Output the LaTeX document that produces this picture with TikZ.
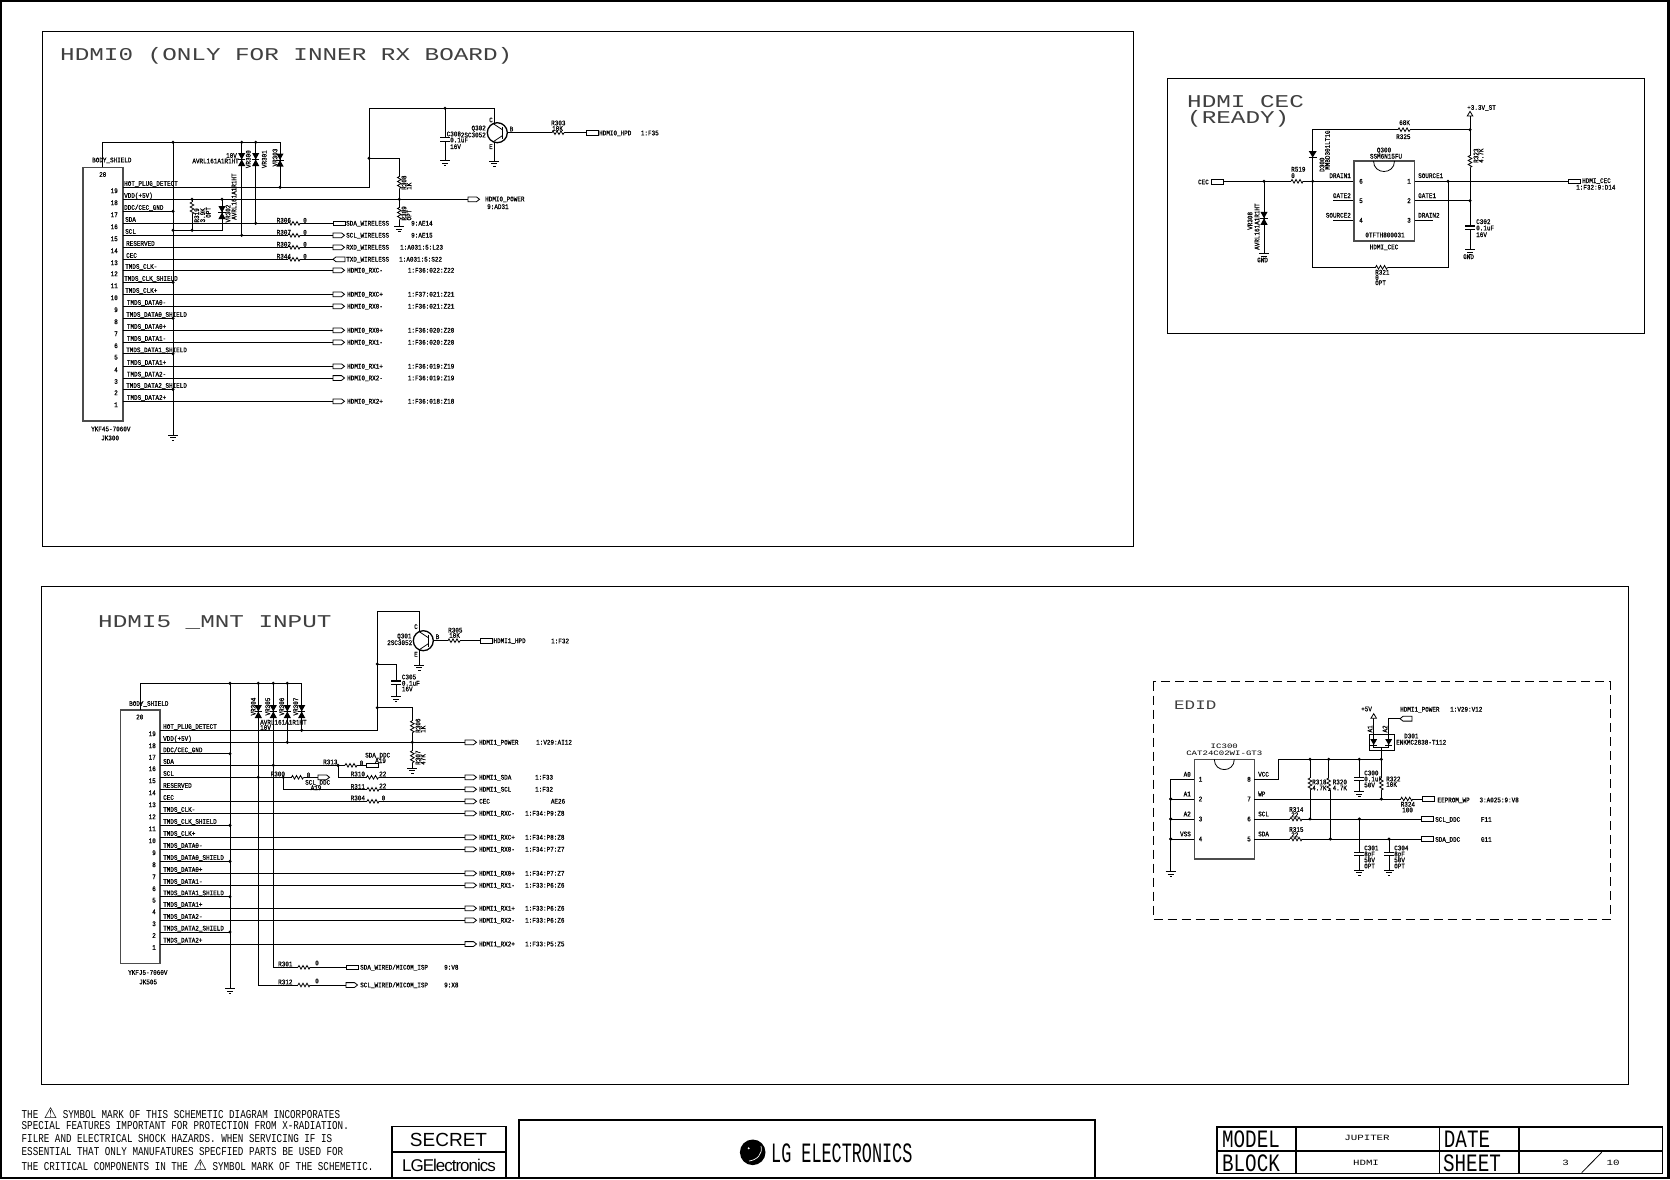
\documentclass[tikz,border=0pt]{standalone}
\usepackage{fontspec}
\newfontfamily\schfont[FakeStretch=0.85,FakeBold=0.7]{Liberation Mono}
\newfontfamily\titlefont[FakeStretch=1.35]{Liberation Mono}
\newfontfamily\strokefont[FakeStretch=0.77]{Liberation Mono}
\newfontfamily\logofont[FakeStretch=0.6]{Liberation Mono}
\newfontfamily\signfont[LetterSpace=-6]{Liberation Sans}
\newfontfamily\symfont{DejaVu Sans}
\tikzset{
    wire/.style={line width=0.8pt},
    lab/.style={anchor=west, inner sep=0pt, text height=4.6pt, text depth=0pt, font=\schfont\fontsize{7}{8}\selectfont},
    titlelab/.style={anchor=west, inner sep=0pt, text=black!75, text height=11pt, text depth=0pt, font=\titlefont\fontsize{18}{20}\selectfont},
    notelab/.style={anchor=west, inner sep=0pt, font=\strokefont\fontsize{12}{13}\selectfont},
    blocklab/.style={anchor=center, inner sep=0pt, font=\strokefont\fontsize{25}{27}\selectfont},
    blockval/.style={anchor=center, inner sep=0pt, font=\titlefont\fontsize{8}{10}\selectfont},
    chipbox/.style={draw=black!70, line width=1.6pt, fill=white, inner sep=0pt},
    resH/.pic={\fill[white] (-6,-2.6) rectangle (6,2.6);
        \draw[wire] (-6,0) -- (-5,-1.8) -- (-3,1.8) -- (-1,-1.8) -- (1,1.8) -- (3,-1.8) -- (5,1.8) -- (6,0);},
    resV/.pic={\fill[white] (-2.6,-6) rectangle (2.6,6);
        \draw[wire] (0,-6) -- (-1.8,-5) -- (1.8,-3) -- (-1.8,-1) -- (1.8,1) -- (-1.8,3) -- (1.8,5) -- (0,6);},
    tvsdiode/.pic={\fill (-3.6,-6.5) -- (3.6,-6.5) -- (0,0) -- cycle;
        \fill (-3.6,6.5) -- (3.6,6.5) -- (0,0) -- cycle;
        \draw[wire] (-3.6,0) -- (3.6,0);},
    capV/.pic={\fill[white] (-5,-1.7) rectangle (5,1.7);
        \draw[line width=1.1pt] (-5,-1.7) -- (5,-1.7) (-5,1.7) -- (5,1.7);},
    gndsym/.pic={\draw[wire] (-5,0) -- (5,0) (-3,2.6) -- (3,2.6) (-1.2,5) -- (1.2,5);},
    railtip/.pic={\draw[wire, fill=white] (-2.8,0) -- (2.8,0) -- (0,-4.6) -- cycle;},
    portA/.pic={\draw[wire, fill=white] (0,-2.4) -- (8.5,-2.4) -- (11.5,0) -- (8.5,2.4) -- (0,2.4) -- cycle;},
    portR/.pic={\draw[wire, fill=white] (0,-2.4) rectangle (12,2.4);},
    portL/.pic={\draw[wire, fill=white] (3,-2.4) -- (12,-2.4) -- (12,2.4) -- (3,2.4) -- (0,0) -- cycle;},
    npnQ/.pic={\draw[line width=1.3pt, fill=white] (0,0) circle (10);
        \draw[line width=1.3pt] (5,-6) -- (5,6);
        \draw[wire] (5,-3) -- (-4,-9) (5,3) -- (-4,9);},
}
\begin{document}
\begin{tikzpicture}[x=1pt, y=-1pt]
\useasboundingbox (0,0) rectangle (1670,1180);
\draw[line width=2.4pt] (1.2,0.8) rectangle (1668.3,1178);
\draw[wire] (42.5,31) rectangle (1133,546);
\draw[wire] (1167,78) rectangle (1644,333);
\draw[wire] (41.5,586) rectangle (1628,1084);
\draw[wire, dash pattern=on 9pt off 5pt] (1153,681.5) rectangle (1610,919);
\node[titlelab] (titleA) at (60,55) {HDMI0 (ONLY FOR INNER RX BOARD)};
\node[titlelab] (titleB) at (1187,102) {HDMI CEC};
\node[titlelab] (titleBb) at (1187,118.5) {(READY)};
\node[titlelab] (titleC) at (98,622) {HDMI5 \_MNT INPUT};
\node[titlelab, text height=9pt, font=\titlefont\fontsize{13}{15}\selectfont] (titleD) at (1174,704.5) {EDID};

\node[chipbox, minimum width=40pt, minimum height=253.7pt] (jkA) at (102.7,294.2) {};
\node[lab] (jkAnum) at (99,174.5) {20};
\node[lab] (jkAbody) at (92,160) {BODY\_SHIELD};
\node[lab] (jkAtype) at (91,429) {YKF45-7060V};
\node[lab] (jkAname) at (101,438) {JK300};
\foreach \n/\yy/\lx/\txt in {19/187.3/124/HOT\_PLUG\_DETECT, 18/199.3/124/VDD(+5V), 17/211.3/124/{DDC/CEC\_GND}, 16/223.3/125/SDA, 15/235.3/125/SCL, 14/247.3/126/RESERVED, 13/259.3/126/CEC, 12/270.3/125/TMDS\_CLK-, 11/282.3/124/TMDS\_CLK\_SHIELD, 10/294.3/125/TMDS\_CLK+, 9/306.3/126.7/TMDS\_DATA0-, 8/318.3/126/TMDS\_DATA0\_SHIELD, 7/330.3/126.7/TMDS\_DATA0+, 6/342.3/126.7/TMDS\_DATA1-, 5/353.7/126/TMDS\_DATA1\_SHIELD, 4/366.3/126.7/TMDS\_DATA1+, 3/378/126.7/TMDS\_DATA2-, 2/389.3/126/TMDS\_DATA2\_SHIELD, 1/401.3/126.7/TMDS\_DATA2+}{
    \coordinate (a\n) at (122.7,\yy);
    \node[lab, anchor=east] (anum\n) at (118,\yy+3.5) {\n};
    \node[lab] (alab\n) at (\lx,\yy-3.8) {\txt};
}
\coordinate (abody) at (102.3,167.3);
\coordinate (aend) at (280,142.3);
\coordinate (agnd) at (173,435);
\coordinate (avr0) at (241.7,142.3);
\coordinate (avr1) at (255.7,142.3);
\coordinate (avdd) at (222,199.3);
\coordinate (ar19) at (192,199.3);
\coordinate (alow) at (222,230.3);
\coordinate (apx) at (333,90);
\coordinate (akink) at (369,158.3);
\coordinate (atop) at (369,108.3);
\coordinate (acol) at (494.3,108.3);
\coordinate (acap) at (445,108.3);
\coordinate (acapg) at (445,160.7);
\coordinate (aemit) at (494.3,161);
\coordinate (apow) at (399.3,199.3);
\coordinate (apowg) at (399.3,226.7);
\coordinate (apowp) at (468,199.3);
\coordinate (abase) at (502.3,132.7);
\coordinate (ahpd) at (586,132.7);
\draw[wire] (abody) |- (aend) -- (aend |- a19);
\draw[wire] (agnd |- aend) -- (agnd);
\pic at (agnd) {gndsym};
\foreach \n in {17,11,8,5,2}{
    \draw[wire] (a\n) -- (a\n -| agnd);
    \fill (a\n -| agnd) circle (1.7);
}
\draw[wire] (a19) -| (atop) -- (acol) -- (aemit);
\draw[wire] (a18) -- (apowp);
\draw[wire] (akink) -| (apow) -- (apowg);
\draw[wire] (avr0) -- (avr0 |- a15);
\draw[wire] (avr1) -- (avr1 |- a16);
\draw[wire] (avdd) -- (alow) -- (alow -| agnd);
\draw[wire] (ar19) -- (ar19 |- alow);
\draw[wire] (acap) -- (acapg);
\draw[wire] (abase) -- (ahpd);
\foreach \n/\rn in {16/R306, 15/R307, 14/R302, 13/R344}{
    \draw[wire] (a\n) -- (a\n -| apx);
    \pic at ([xshift=294pt]a\n -| 0,0) {resH};
    \node[lab] (ar\n) at ([xshift=276.5pt,yshift=3pt]a\n -| 0,0) {\rn};
    \node[lab] (az\n) at ([xshift=303pt,yshift=3pt]a\n -| 0,0) {0};
}
\pic at (a16 -| apx) {portR};
\pic at (a15 -| apx) {portA};
\pic at (a14 -| apx) {portA};
\pic at (a13 -| apx) {portL};
\foreach \n/\sig/\rx/\ref in {16/SDA\_WIRELESS/411/9:AE14, 15/SCL\_WIRELESS/411/9:AE15, 14/RXD\_WIRELESS/400/1:A031:5:L23, 13/TXD\_WIRELESS/399/1:A031:5:S22}{
    \node[lab] (asig\n) at ([xshift=13pt]a\n -| apx) {\sig};
    \node[lab] (aref\n) at ([xshift=\rx pt]a\n -| 0,0) {\ref};
}
\foreach \n/\sig/\ref in {12/HDMI0\_RXC-/1:F36:022:Z22, 10/HDMI0\_RXC+/1:F37:021:Z21, 9/HDMI0\_RX0-/1:F36:021:Z21, 7/HDMI0\_RX0+/1:F36:020:Z20, 6/HDMI0\_RX1-/1:F36:020:Z20, 4/HDMI0\_RX1+/1:F36:019:Z19, 3/HDMI0\_RX2-/1:F36:019:Z19, 1/HDMI0\_RX2+/1:F36:018:Z18}{
    \draw[wire] (a\n) -- (a\n -| apx);
    \pic at (a\n -| apx) {portA};
    \node[lab] (asig\n) at ([xshift=14pt]a\n -| apx) {\sig};
    \node[lab] (aref\n) at ([xshift=407.7pt]a\n -| 0,0) {\ref};
}
\pic at (ar19 |- 0,208) {resV};
\pic at (avdd |- 0,212.5) {tvsdiode};
\pic at (avr0 |- 0,159.5) {tvsdiode};
\pic at (avr1 |- 0,159.5) {tvsdiode};
\pic at (aend |- 0,160) {tvsdiode};
\pic at (apow |- 0,182.5) {resV};
\pic at (apow |- 0,213.5) {resV};
\pic at (apowg) {gndsym};
\pic at (acap |- 0,139.4) {capV};
\pic at (acapg) {gndsym};
\pic at (aemit) {gndsym};
\pic at (497.3,132.7) {npnQ};
\pic at (558,132.7) {resH};
\pic at (ahpd) {portR};
\pic at (apowp) {portA};
\foreach \jx/\jy in {173/142.3, 241.7/142.3, 255.7/142.3, 280/187.3, 241.7/235.3, 255.7/223.3, 222/199.3, 192/199.3, 192/230.3, 173/230.3, 369/158.3, 399.3/199.3, 445/108.3}{
    \fill (\jx,\jy) circle (1.7);
}
\node[lab, anchor=east] (avr10v) at (237,155.5) {10V};
\node[lab, anchor=east] (avrtype) at (239,161) {AVRL161A1R1HT};
\node[lab, rotate=90] (avr300) at (248.3,168.3) {VR300};
\node[lab, rotate=90] (avr301) at (264.3,168.3) {VR301};
\node[lab, rotate=90] (avr303) at (275,166.7) {VR303};
\node[lab, rotate=90] (avr302) at (228,222.7) {VR302};
\node[lab, rotate=90] (avrtypeb) at (234,220) {AVRL161A1R1HT};
\node[lab, rotate=90] (ar319) at (196.7,222.7) {R319};
\node[lab, rotate=90] (ar319v) at (202.7,222.7) {3.9K};
\node[lab, rotate=90] (ar319o) at (208.3,218) {OPT};
\node[lab, rotate=90] (ar308) at (404,190) {R308};
\node[lab, rotate=90] (ar308v) at (409,190) {1K};
\node[lab, rotate=90] (ar309) at (404,220.7) {R309};
\node[lab, rotate=90] (ar309v) at (409,220.7) {OPT};
\node[lab] (ac300) at (446.5,134) {C308};
\node[lab] (ac300v) at (450,140) {0.1uF};
\node[lab] (ac300w) at (450,146.7) {16V};
\node[lab] (aqc) at (489,120) {C};
\node[lab] (aqe) at (489,146.7) {E};
\node[lab] (aqb) at (509.5,129) {B};
\node[lab, anchor=east] (aqname) at (486,128) {Q302};
\node[lab, anchor=east] (aqtype) at (486,135) {2SC3052};
\node[lab] (ar303) at (551,123) {R303};
\node[lab] (ar303v) at (552,128.5) {10K};
\node[lab] (ahpdsig) at (599,133) {HDMI0\_HPD};
\node[lab] (ahpdref) at (640.7,133) {1:F35};
\node[lab] (apowsig) at (485,199) {HDMI0\_POWER};
\node[lab] (apowref) at (487,206.7) {9:AD31};

\node[chipbox, minimum width=60.3pt, minimum height=80pt] (qA) at (1384.2,201) {};
\draw[wire] (1373.5,161) .. controls (1373.5,175) and (1394.5,175) .. (1394.5,161);
\coordinate (bplus) at (1470,116);
\coordinate (bgnd) at (1470,249.3);
\coordinate (bgate) at (1470,200.7);
\coordinate (btop) at (1470,129.7);
\coordinate (bdio) at (1312.7,181.3);
\coordinate (bjump) at (1448,181.3);
\coordinate (bcec) at (1223,181.3);
\coordinate (bvr) at (1264,181.3);
\coordinate (bvrg) at (1264,253.3);
\coordinate (bport) at (1568,181.3);
\coordinate (bbot) at (1312.7,267.3);
\coordinate (bpin5) at (1333,200.7);
\coordinate (bpin4) at (1333,220.3);
\coordinate (bpin3) at (1433,220.3);
\draw[wire] (bplus) -- (bgnd);
\draw[wire] (btop) -| (bbot) -| (bjump);
\draw[wire] (bcec) -- (qA.west |- bcec);
\draw[wire] (qA.east |- bport) -- (bport);
\draw[wire] (qA.east |- bgate) -- (bgate);
\draw[wire] (bpin5) -- (qA.west |- bpin5);
\draw[wire] (bpin4) -- (qA.west |- bpin4);
\draw[wire] (qA.east |- bpin3) -- (bpin3);
\draw[wire] (bvr) -- (bvrg);
\draw[wire] (bcec) -- +(-1.5,0) -- +(-1.5,1);
\pic at (bplus) {railtip};
\fill (1308.7,151) -- (1316.7,151) -- (1312.7,157.5) -- cycle;
\draw[wire] (1308.7,157.5) -- (1316.7,157.5);
\pic at (1404,129.7) {resH};
\pic at (1297,181.3) {resH};
\pic at (1381.5,267.3) {resH};
\pic at (1470,161.5) {resV};
\pic at (bvr |- 0,218.3) {tvsdiode};
\pic at (1470,227.7) {capV};
\pic at (bgnd) {gndsym};
\pic at (bvrg) {gndsym};
\pic at (1211,182) {portR};
\pic at (bport) {portR};
\foreach \jx/\jy in {1470/129.7, 1470/200.7, 1312.7/181.3, 1264/181.3, 1448/181.3}{
    \fill (\jx,\jy) circle (1.7);
}
\node[lab, anchor=east] (bcecsig) at (1209,182) {CEC};
\node[lab] (b33v) at (1467,107.5) {+3.3V\_ST};
\node[lab] (b68k) at (1399,122.7) {68K};
\node[lab] (br325) at (1396,136.7) {R325};
\node[lab, rotate=90] (br323) at (1476,163) {R323};
\node[lab, rotate=90] (br323v) at (1481,163) {4.7K};
\node[lab, rotate=90] (bd300) at (1322,172) {D300};
\node[lab, rotate=90] (bd300t) at (1327.5,170) {MMBD301LT1G};
\node[lab] (br519) at (1291,169.3) {R519};
\node[lab] (br519v) at (1291,175.7) {0};
\node[lab, rotate=90] (bvr308) at (1250,230) {VR308};
\node[lab, rotate=90] (bvrt) at (1257,250) {AVRL161A1R1HT};
\node[lab] (bgnd1) at (1257,260) {GND};
\node[lab] (bgnd2) at (1463,256.7) {GND};
\node[lab, anchor=center] (bqname) at (1384,150) {Q300};
\node[lab, anchor=center] (bqtype) at (1386,156.3) {SSM6N15FU};
\node[lab, anchor=center] (bqcode) at (1385,235) {0TFTH800031};
\node[lab, anchor=center] (bqdes) at (1384,247) {HDMI\_CEC};
\node[lab, anchor=east] (bdr1) at (1351,175.7) {DRAIN1};
\node[lab, anchor=east] (bgt2) at (1351,195.7) {GATE2};
\node[lab, anchor=east] (bsr2) at (1351,215.3) {SOURCE2};
\node[lab] (bsr1) at (1418,175.7) {SOURCE1};
\node[lab] (bgt1) at (1418,195.7) {GATE1};
\node[lab] (bdr2) at (1418,215.3) {DRAIN2};
\foreach \pn/\px/\yy in {6/1359/181.3, 5/1359/200.7, 4/1359/220.3, 1/1407/181.3, 2/1407/200.7, 3/1407/220.3}{
    \node[lab] (bn\pn) at (\px,\yy) {\pn};
}
\node[lab] (bcecr) at (1582,180.7) {HDMI\_CEC};
\node[lab] (bcecref) at (1576,187.3) {1:F32:9:D14};
\node[lab] (br321) at (1375,272.3) {R321};
\node[lab] (br321v) at (1375,277.5) {0};
\node[lab] (br321o) at (1375,282.8) {OPT};
\node[lab] (bc302) at (1476,221.7) {C302};
\node[lab] (bc302v) at (1476,228) {0.1uF};
\node[lab] (bc302w) at (1476,234.7) {16V};

\node[chipbox, minimum width=39.3pt, minimum height=253.3pt] (jkC) at (140.3,836.7) {};
\node[lab] (jkCnum) at (136,717) {20};
\node[lab] (jkCbody) at (129,703.5) {BODY\_SHIELD};
\node[lab] (jkCtype) at (128,972.5) {YKFJ5-7060V};
\node[lab] (jkCname) at (139,982) {JK505};
\foreach \n/\yy/\txt in {19/730.3/HOT\_PLUG\_DETECT, 18/742.3/VDD(+5V), 17/753.7/{DDC/CEC\_GND}, 16/765.3/SDA, 15/777.3/SCL, 14/789.3/RESERVED, 13/801.3/CEC, 12/813.3/TMDS\_CLK-, 11/825.3/TMDS\_CLK\_SHIELD, 10/837.3/TMDS\_CLK+, 9/849.3/TMDS\_DATA0-, 8/861.3/TMDS\_DATA0\_SHIELD, 7/873.3/TMDS\_DATA0+, 6/885.3/TMDS\_DATA1-, 5/896.7/TMDS\_DATA1\_SHIELD, 4/908.3/TMDS\_DATA1+, 3/920.3/TMDS\_DATA2-, 2/932/TMDS\_DATA2\_SHIELD, 1/944/TMDS\_DATA2+}{
    \coordinate (c\n) at (160,\yy);
    \node[lab, anchor=east] (cnum\n) at (156,\yy+3.5) {\n};
    \node[lab] (clab\n) at (163,\yy-3.8) {\txt};
}
\coordinate (cbody) at (140.3,710);
\coordinate (cend) at (301.7,683.3);
\coordinate (cgnd) at (230,988.3);
\coordinate (csda) at (273.3,967.3);
\coordinate (cscl) at (258.3,985);
\coordinate (cvr6) at (287.3,683.3);
\coordinate (cpx) at (465,700);
\coordinate (cup) at (377.3,611);
\coordinate (ccol) at (419.3,611);
\coordinate (cemit) at (419.3,665);
\coordinate (chpd) at (480,640.7);
\coordinate (cbase) at (428.3,640.7);
\coordinate (ccapj) at (377.3,664);
\coordinate (ccap) at (396,664);
\coordinate (ccapg) at (396,696.7);
\coordinate (crj) at (377.3,707.7);
\coordinate (cr) at (412.3,707.7);
\coordinate (crg) at (412.3,768);
\coordinate (cdda) at (338,765.3);
\coordinate (cddc) at (283.3,777.3);
\coordinate (cwp) at (346,967.3);
\coordinate (cwq) at (346,985);
\draw[wire] (cbody) |- (cend) -- (cend |- c19);
\draw[wire] (cgnd |- cend) -- (cgnd);
\pic at (cgnd) {gndsym};
\foreach \n in {17,11,8,5,2}{
    \draw[wire] (c\n) -- (c\n -| cgnd);
    \fill (c\n -| cgnd) circle (1.7);
}
\draw[wire] (c19) -| (cup) -| (cemit);
\draw[wire] (c18) -- (c18 -| cpx);
\draw[wire] (c16) -- (c16 -| cdda) -- (366.7,765.3);
\draw[wire] (c15) -- (318,777.3);
\draw[wire] (c14) -- +(23,0);
\draw[wire] (c13) -- (c13 -| cpx);
\draw[wire] (cdda) |- (cpx |- c15);
\draw[wire] (cddc) |- (cpx |- c14);
\draw[wire] (cvr6) -- (cvr6 |- c18);
\draw[wire] (cscl |- cend) -- (cscl) -- (cwq);
\draw[wire] (csda |- cend) -- (csda) -- (cwp);
\draw[wire] (ccapj) -- (ccap) -- (ccapg);
\draw[wire] (crj) -- (cr) -- (crg);
\draw[wire] (cbase) -- (chpd);
\foreach \n/\sig/\ref in {12/HDMI1\_RXC-/1:F34:P9:Z8, 10/HDMI1\_RXC+/1:F34:P8:Z8, 9/HDMI1\_RX0-/1:F34:P7:Z7, 7/HDMI1\_RX0+/1:F34:P7:Z7, 6/HDMI1\_RX1-/1:F33:P6:Z6, 4/HDMI1\_RX1+/1:F33:P6:Z6, 3/HDMI1\_RX2-/1:F33:P6:Z6, 1/HDMI1\_RX2+/1:F33:P5:Z5}{
    \draw[wire] (c\n) -- (c\n -| cpx);
    \pic at (c\n -| cpx) {portA};
    \node[lab] (csig\n) at ([xshift=14pt]c\n -| cpx) {\sig};
    \node[lab] (cref\n) at ([xshift=525pt]c\n -| 0,0) {\ref};
}
\foreach \n/\sig/\rx/\ref in {18/HDMI1\_POWER/536/1:V29:AI12, 15/HDMI1\_SDA/535/1:F33, 14/HDMI1\_SCL/535/1:F32, 13/CEC/550.7/AE26}{
    \pic at (c\n -| cpx) {portA};
    \node[lab] (csig\n) at ([xshift=14pt]c\n -| cpx) {\sig};
    \node[lab] (cref\n) at ([xshift=\rx pt]c\n -| 0,0) {\ref};
}
\pic at (cemit) {gndsym};
\pic at (423.3,640.7) {npnQ};
\pic at (454,640.7) {resH};
\pic at (chpd) {portR};
\pic at (ccap |- 0,682.7) {capV};
\pic at (ccapg) {gndsym};
\pic at (cr |- 0,726.7) {resV};
\pic at (cr |- 0,756.7) {resV};
\pic at (crg) {gndsym};
\pic at (351,765.3) {resH};
\pic at (366.7,765.3) {portR};
\pic at (297.5,777.3) {resH};
\pic at (318,777.3) {portA};
\pic at (372.5,777.3) {resH};
\pic at (373,789.3) {resH};
\pic at (373,801.3) {resH};
\pic at (304,967.3) {resH};
\pic at (304,985) {resH};
\pic at (cwp) {portR};
\pic at (cwq) {portA};
\foreach \vx in {258.3,273.3,287.3,301.7}{
    \pic at (\vx,711.5) {tvsdiode};
}
\foreach \jx/\jy in {230/683.3, 258.3/683.3, 273.3/683.3, 287.3/683.3, 258.3/777.3, 273.3/765.3, 287.3/742.3, 301.7/730.3, 377.3/664, 377.3/707.7, 412.3/742.3, 338/765.3, 283.3/777.3}{
    \fill (\jx,\jy) circle (1.7);
}
\node[lab, rotate=90] (cvr304) at (253.3,715.7) {VR304};
\node[lab, rotate=90] (cvr305) at (267.7,715.7) {VR305};
\node[lab, rotate=90] (cvr306) at (281.7,715.7) {VR306};
\node[lab, rotate=90] (cvr307) at (295.7,715.7) {VR307};
\node[lab] (cvrt) at (260,722.3) {AVRL161A1R1HT};
\node[lab] (cvrv) at (260,727.5) {10V};
\node[lab] (cqc) at (414,626.7) {C};
\node[lab] (cqe) at (414,654.3) {E};
\node[lab] (cqb) at (435.5,636.7) {B};
\node[lab] (cqname) at (397,636) {Q301};
\node[lab] (cqtype) at (387,642.7) {2SC3052};
\node[lab] (cr305) at (448,630.2) {R305};
\node[lab] (cr305v) at (449,635.5) {10K};
\node[lab] (chpds) at (493.3,640.7) {HDMI1\_HPD};
\node[lab] (chpdr) at (551,641) {1:F32};
\node[lab] (cc305) at (401.7,677) {C305};
\node[lab] (cc305v) at (401.7,683.3) {0.1uF};
\node[lab] (cc305w) at (401.7,689) {16V};
\node[lab, rotate=90] (cr308) at (418,733) {R306};
\node[lab, rotate=90] (cr308v) at (423,733) {1K};
\node[lab, rotate=90] (cr309) at (418,765) {R307};
\node[lab, rotate=90] (cr309v) at (423,765) {47K};
\node[lab] (cr313) at (323,762) {R313};
\node[lab] (cr313v) at (359.5,763) {0};
\node[lab] (cddat) at (365,755.2) {SDA\_DDC};
\node[lab] (cddaa) at (375,760.7) {A19};
\node[lab] (cr300) at (270.5,774) {R300};
\node[lab] (cr300v) at (306.5,775) {0};
\node[lab] (csclt) at (305,782.4) {SCL\_DDC};
\node[lab] (cscla) at (310.5,787.8) {A19};
\node[lab] (cr310) at (350.5,774) {R310};
\node[lab] (cr310v) at (379,774) {22};
\node[lab] (cr311) at (350.5,786.5) {R311};
\node[lab] (cr311v) at (379,786) {22};
\node[lab] (cr304) at (350.5,798) {R304};
\node[lab] (cr304v) at (381.5,798) {0};
\node[lab] (cr301) at (278,964) {R301};
\node[lab] (cr301v) at (315,963) {0};
\node[lab] (cr312) at (278,982) {R312};
\node[lab] (cr312v) at (315,981) {0};
\node[lab] (cwds) at (360,967.3) {SDA\_WIRED/MICOM\_ISP};
\node[lab] (cwdr) at (444,967.3) {9:V8};
\node[lab] (cwcs) at (360,985) {SCL\_WIRED/MICOM\_ISP};
\node[lab] (cwcr) at (444,985) {9:X8};

\node[chipbox, minimum width=60pt, minimum height=99.7pt] (icA) at (1224.3,809.2) {};
\draw[wire] (1214.3,759.3) .. controls (1214.3,773) and (1234.3,773) .. (1234.3,759.3);
\node[lab, anchor=center, font=\titlefont\fontsize{6.7}{8}\selectfont] (icname) at (1224.3,745.7) {IC300};
\node[lab, anchor=center, font=\titlefont\fontsize{6.7}{8}\selectfont] (ictype) at (1224.3,753.3) {CAT24C02WI-GT3};
\foreach \n/\m/\yy/\ln/\rn in {1/8/779.3/A0/VCC, 2/7/799/A1/WP, 3/6/819/A2/SCL, 4/5/839/VSS/SDA}{
    \coordinate (dl\n) at (1194.3,\yy);
    \coordinate (dr\m) at (1254.3,\yy);
    \node[lab] (dnl\n) at (1198.5,\yy) {\n};
    \node[lab] (dnr\m) at (1247,\yy) {\m};
    \node[lab, anchor=east] (dll\n) at (1191,\yy-5) {\ln};
    \node[lab] (dlr\m) at (1258,\yy-5) {\rn};
}
\coordinate (drail) at (1170.7,779.3);
\coordinate (dgnd) at (1170.7,871.7);
\coordinate (dtop) at (1278.3,759.3);
\coordinate (dtopr) at (1381.3,759.3);
\coordinate (dwp) at (1422.7,799);
\coordinate (dscl) at (1421.7,819);
\coordinate (dsda) at (1421.7,839);
\coordinate (dc1) at (1359.3,870);
\coordinate (dc2) at (1389,870);
\coordinate (dc0) at (1359.3,791.7);
\coordinate (dr18) at (1310,759.3);
\coordinate (dr20) at (1328.7,759.3);
\coordinate (dhp) at (1400,718.7);
\coordinate (dplus) at (1373.7,718.3);
\draw[wire] (dl1) -- (drail) -- (dgnd);
\foreach \n in {2,3,4}{
    \draw[wire] (dl\n) -- (dl\n -| drail);
    \fill (dl\n -| drail) circle (1.7);
}
\draw[wire] (dr8) -| (dtop) -- (dtopr) -- (dtopr |- dwp);
\draw[wire] (dr7) -- (dwp);
\draw[wire] (dr6) -- (dscl);
\draw[wire] (dr5) -- (dsda);
\draw[wire] (dr18) -- (dr18 |- dscl);
\draw[wire] (dr20) -- (1328.7,790) -- (1330.3,790) -- (1330.3,839);
\draw[wire] (dc0 |- dtop) -- (dc0);
\draw[wire] (dc1 |- dscl) -- (dc1);
\draw[wire] (dc2 |- dsda) -- (dc2);
\draw[wire] (1369.3,734.3) rectangle (1394.3,750.7);
\draw[wire] (dplus) -- (1373.7,747) -- (1388.7,747) -- (1388.7,718.7) -- (dhp);
\draw[wire] (1381.3,747) -- (dtopr);
\pic at (dplus) {railtip};
\fill (1370.2,739) -- (1377.2,739) -- (1373.7,745) -- cycle;
\fill (1385.2,739) -- (1392.2,739) -- (1388.7,745) -- cycle;
\draw[wire] (1370.2,745) -- (1377.2,745) (1385.2,745) -- (1392.2,745);
\pic at (dgnd) {gndsym};
\pic at (dr18 |- 0,784) {resV};
\pic at (dr20 |- 0,784) {resV};
\pic at (dtopr |- 0,784) {resV};
\pic at (dc0 |- 0,779.2) {capV};
\pic at (dc0) {gndsym};
\pic at (1406.7,799) {resH};
\pic at (1296,819) {resH};
\pic at (1296,839) {resH};
\pic at (dc1 |- 0,854) {capV};
\pic at (dc2 |- 0,854) {capV};
\pic at (dc1) {gndsym};
\pic at (dc2) {gndsym};
\pic at (dwp) {portR};
\pic at (dscl) {portR};
\pic at (dsda) {portR};
\pic at (dhp) {portL};
\foreach \jx/\jy in {1170.7/799, 1170.7/819, 1170.7/839, 1310/759.3, 1328.7/759.3, 1359.3/759.3, 1381.3/759.3, 1381.3/799, 1310/819, 1359.3/819, 1330.3/839, 1389/839}{
    \fill (\jx,\jy) circle (1.7);
}
\node[lab] (d5v) at (1361,709) {+5V};
\node[lab] (dhps) at (1400,709.3) {HDMI1\_POWER};
\node[lab] (dhpr) at (1450,709.3) {1:V29:V12};
\node[lab] (dd301) at (1404,736) {D301};
\node[lab] (ddtype) at (1396,742.3) {ENKMC2838-T112};
\node[lab, rotate=90] (da1) at (1370,732.7) {A1};
\node[lab, rotate=90] (da2) at (1385,732.7) {A2};
\node[lab] (dr318) at (1312,782) {R318};
\node[lab] (dr318v) at (1312,788) {4.7K};
\node[lab] (dr320) at (1332.5,782) {R320};
\node[lab] (dr320v) at (1332.5,788) {4.7K};
\node[lab] (dc300) at (1364,773) {C300};
\node[lab] (dc300v) at (1364,779) {0.1uF};
\node[lab] (dc300w) at (1364,785) {50V};
\node[lab] (dr322) at (1386,779) {R322};
\node[lab] (dr322v) at (1386,784.5) {10K};
\node[lab] (dr324) at (1400.5,804.3) {R324};
\node[lab] (dr324v) at (1402,810) {100};
\node[lab] (dwps) at (1437.3,800) {EEPROM\_WP};
\node[lab] (dwpr) at (1479.3,800) {3:A025:9:V8};
\node[lab] (dr314) at (1289,809.5) {R314};
\node[lab] (dr314v) at (1291,814.8) {22};
\node[lab] (dr315) at (1289,829.5) {R315};
\node[lab] (dr315v) at (1291,834.8) {22};
\node[lab] (dsclS) at (1435,819.5) {SCL\_DDC};
\node[lab] (dsclR) at (1480.7,819.5) {F11};
\node[lab] (dsdaS) at (1435,839.5) {SDA\_DDC};
\node[lab] (dsdaR) at (1480.7,839.5) {G11};
\foreach \cn/\cx/\cname in {a/1364/C301, b/1394/C304}{
    \node[lab] (dc\cn) at (\cx,848) {\cname};
    \node[lab] (dc\cn v) at (\cx,854) {8pF};
    \node[lab] (dc\cn w) at (\cx,860) {50V};
    \node[lab] (dc\cn o) at (\cx,866) {OPT};
}

\node[notelab] (note1) at (21.5,1113) {THE {\symfont\fontsize{15}{15}\selectfont\symbol{"26A0}} SYMBOL MARK OF THIS SCHEMETIC DIAGRAM INCORPORATES};
\node[notelab] (note2) at (21.5,1126) {SPECIAL FEATURES IMPORTANT FOR PROTECTION FROM X-RADIATION.};
\node[notelab] (note3) at (21.5,1139) {FILRE AND ELECTRICAL SHOCK HAZARDS. WHEN SERVICING IF IS};
\node[notelab] (note4) at (21.5,1152) {ESSENTIAL THAT ONLY MANUFATURES SPECFIED PARTS BE USED FOR};
\node[notelab] (note5) at (21.5,1165) {THE CRITICAL COMPONENTS IN THE {\symfont\fontsize{15}{15}\selectfont\symbol{"26A0}} SYMBOL MARK OF THE SCHEMETIC.};

\draw[line width=1.8pt] (392,1178) |- (506,1126.5) -- (506,1178);
\draw[line width=1.8pt] (392,1152) -- (506,1152);
\node[inner sep=0pt, font=\fontspec{Liberation Sans}\fontsize{19}{20}\selectfont] (secret) at (448.5,1140) {SECRET};
\node[inner sep=0pt, font=\signfont\fontsize{17}{19}\selectfont] (lgsign) at (449,1165.5) {LGElectronics};
\draw[line width=2.4pt] (519,1178) |- (1095,1120) -- (1095,1178);
\fill (752.7,1152.3) circle (12.8);
\fill[white] (748.7,1148.3) circle (1.1);
\draw[white, line width=0.7pt] (761,1146) .. controls (763,1154) and (757,1160) .. (749,1161);
\node[anchor=west, inner sep=0pt, font=\logofont\fontsize{28}{30}\selectfont] (lglogo) at (771,1153) {LG ELECTRONICS};

\draw[line width=1.6pt] (1216.7,1126.7) rectangle (1662.3,1173.3);
\draw[line width=1.6pt] (1216.7,1150.7) -- (1662.3,1150.7);
\draw[line width=1.6pt] (1296,1126.7) -- (1296,1173.3);
\draw[line width=1.6pt] (1439.3,1126.7) -- (1439.3,1173.3);
\draw[line width=1.6pt] (1518.7,1126.7) -- (1518.7,1173.3);
\node[blocklab] (blkmodel) at (1251,1139) {MODEL};
\node[blocklab] (blkblock) at (1251,1163) {BLOCK};
\node[blocklab] (blkdate) at (1467,1139) {DATE};
\node[blocklab] (blksheet) at (1472,1163) {SHEET};
\node[blockval] (valmodel) at (1367,1138) {JUPITER};
\node[blockval] (valblock) at (1366,1163) {HDMI};
\node[blockval] (valsheet) at (1565.7,1163) {3};
\node[blockval] (valtotal) at (1613,1163) {10};
\coordinate (slasha) at (1581.7,1172.7);
\coordinate (slashb) at (1601.7,1152.3);
\draw[wire] (slasha) -- (slashb);
\end{tikzpicture}
\end{document}
